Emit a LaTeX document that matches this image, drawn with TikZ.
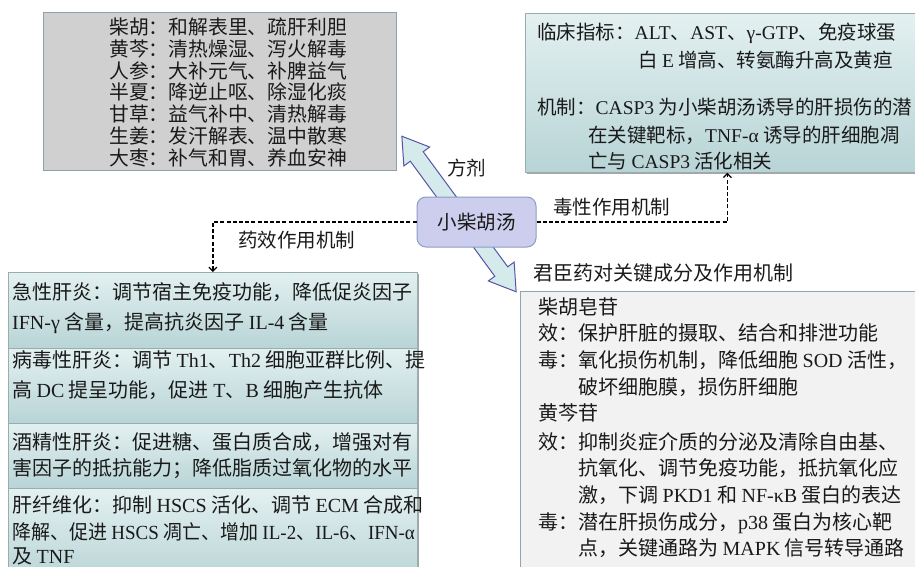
\documentclass[tikz,border=0pt]{standalone}
\usepackage{graphicx}
\usepackage{fontspec}
\setmainfont{Noto Sans CJK SC}
\newfontfamily\latf{Liberation Serif}
\newcommand\E[1]{{\latf #1}}
\usetikzlibrary{shapes.arrows,arrows.meta,shadows}
\definecolor{grayfill}{HTML}{D0D0D0}
\definecolor{grayline}{HTML}{8BA3AB}
\definecolor{tealtop}{HTML}{E3F0F0}
\definecolor{tealbot}{HTML}{B8D4D6}
\definecolor{tealline}{HTML}{9AADAE}
\definecolor{rbfill}{HTML}{F2F2F2}
\definecolor{rbline}{HTML}{8FA6AE}
\definecolor{cnfill}{HTML}{CDCDEE}
\definecolor{cnline}{HTML}{8E9DC4}
\definecolor{arfill}{HTML}{D5EAEA}
\definecolor{arline}{HTML}{5555A5}
\definecolor{txtc}{HTML}{1A1A1A}
\begin{document}
\begin{tikzpicture}[x=1pt,y=-1pt,
  every node/.style={text=txtc},
  t20/.style={inner sep=0pt, anchor=base west, font=\fontsize{20}{24}\selectfont},
  t19/.style={inner sep=0pt, anchor=base west, font=\fontsize{19.5}{24}\selectfont},
  tg/.style={inner sep=0pt, anchor=base west, font=\fontsize{19.8}{22}\selectfont},
  graybox/.style={draw=grayline, line width=1pt, fill=grayfill, anchor=north west, inner sep=0pt},
  tealbox/.style={draw=tealline, line width=0.8pt, top color=tealtop, bottom color=tealbot, anchor=north west, inner sep=0pt,
     drop shadow={shadow xshift=1.5pt, shadow yshift=-1.5pt, fill=black, opacity=0.35}},
  rbbox/.style={draw=rbline, line width=1.2pt, fill=rbfill, anchor=north west, inner sep=0pt},
  cnode/.style={draw=cnline, line width=1pt, fill=cnfill, rounded corners=9pt, font=\fontsize{19.5}{24}\selectfont},
  fjarrow/.style={double arrow, draw=arline, fill=arfill, line width=1pt, inner xsep=0pt, inner ysep=7.5pt,
     double arrow head extend=8pt, double arrow tip angle=65, minimum height=193pt},
  dashconn/.style={dashed, dash pattern=on 4pt off 2.2pt, line width=1.2pt, black, -{Straight Barb[length=4pt,width=8pt]}}
]
\useasboundingbox (0,0) rectangle (915,567);

% gray box
\node[graybox, minimum width=353, minimum height=158] (gb) at (43,12) {};
\node[tg] (g1) at (109,34.5) {柴胡：和解表里、疏肝利胆};
\node[tg] (g2) at (109,56.3) {黄芩：清热燥湿、泻火解毒};
\node[tg] (g3) at (109,78.1) {人参：大补元气、补脾益气};
\node[tg] (g4) at (109,99.9) {半夏：降逆止呕、除湿化痰};
\node[tg] (g5) at (109,121.7) {甘草：益气补中、清热解毒};
\node[tg] (g6) at (109,143.5) {生姜：发汗解表、温中散寒};
\node[tg] (g7) at (109,165.3) {大枣：补气和胃、养血安神};

% top right box
\node[tealbox, minimum width=404, minimum height=159] (tr) at (525,13) {};
\node[t19] (r1) at (537,39.6) {临床指标：\E{ALT}、\E{AST}、\E{γ-GTP}、免疫球蛋};
\node[t19] (r2) at (638,67.6) {白 \E{E} 增高、转氨酶升高及黄疸};
\node[t19] (r3) at (537,114.6) {机制：\E{CASP3} 为小柴胡汤诱导的肝损伤的潜};
\node[t19] (r4) at (588,142.6) {在关键靶标，\E{TNF-α} 诱导的肝细胞凋};
\node[t19] (r5) at (588,168.6) {亡与 \E{CASP3} 活化相关};

% left boxes
\node[tealbox, minimum width=409, minimum height=76] (lb1) at (8,272) {};
\node[tealbox, minimum width=409, minimum height=75] (lb2) at (8,348) {};
\node[tealbox, minimum width=409, minimum height=65] (lb3) at (8,423) {};
\node[tealbox, minimum width=409, minimum height=95] (lb4) at (8,488) {};
\node[t20] (a1) at (12,299.6) {急性肝炎：调节宿主免疫功能，降低促炎因子};
\node[t20] (a2) at (12,329.6) {\E{IFN-γ} 含量，提高抗炎因子 \E{IL-4} 含量};
\node[t20] (b1) at (12,367.6) {病毒性肝炎：调节 \E{Th1}、\E{Th2} 细胞亚群比例、提};
\node[t20] (b2) at (12,397.6) {高 \E{DC} 提呈功能，促进 \E{T}、\E{B} 细胞产生抗体};
\node[t20] (c1) at (12,449.6) {酒精性肝炎：促进糖、蛋白质合成，增强对有};
\node[t20] (c2) at (12,475.6) {害因子的抵抗能力；降低脂质过氧化物的水平};
\node[t20] (d1) at (12,512.6) {肝纤维化：抑制 \E{HSCS} 活化、调节 \E{ECM} 合成和};
\node[t20] (d2) at (12,539.6) {\scalebox{0.95}[1]{降解、促进 \E{HSCS} 凋亡、增加 \E{IL-2}、\E{IL-6}、\E{IFN-α}}};
\node[t20] (d3) at (12,563.5) {及 \E{TNF}};

% right bottom box
\node[rbbox, minimum width=410, minimum height=300] (rb) at (520,291) {};
\node[t20] (s1) at (538,314.6) {柴胡皂苷};
\node[t20] (s2) at (538,340.6) {效：保护肝脏的摄取、结合和排泄功能};
\node[t20] (s3) at (538,367.6) {毒：氧化损伤机制，降低细胞 \E{SOD} 活性，};
\node[t20] (s4) at (578,394.6) {破坏细胞膜，损伤肝细胞};
\node[t20] (s5) at (538,420.6) {黄芩苷};
\node[t20] (s6) at (538,449.6) {效：抑制炎症介质的分泌及清除自由基、};
\node[t20] (s7) at (578,475.6) {抗氧化、调节免疫功能，抵抗氧化应};
\node[t20] (s8) at (578,502.6) {激，下调 \E{PKD1} 和 \E{NF-κB} 蛋白的表达};
\node[t20] (s9) at (538,529.6) {毒：潜在肝损伤成分，\E{p38} 蛋白为核心靶};
\node[t20] (s10) at (578,555.6) {点，关键通路为 \E{MAPK} 信号转导通路};

% double arrow
\node[fjarrow, rotate=-53.7] (fj) at (459,214) {};

% center node
\node[cnode, minimum width=119, minimum height=50] (cn) at (476.5,222) {小柴胡汤};

% connectors
\draw[dashconn] (cn.east) -| (tr.south);
\draw[dashconn] (cn.west) -| (lb1.north);

% labels
\node[t19] (lfj) at (447,175) {方剂};
\node[t19] (ldx) at (553,214) {毒性作用机制};
\node[t19] (lyx) at (238,247) {药效作用机制};
\node[t20] (ljc) at (533,280.6) {君臣药对关键成分及作用机制};
\end{tikzpicture}
\end{document}
